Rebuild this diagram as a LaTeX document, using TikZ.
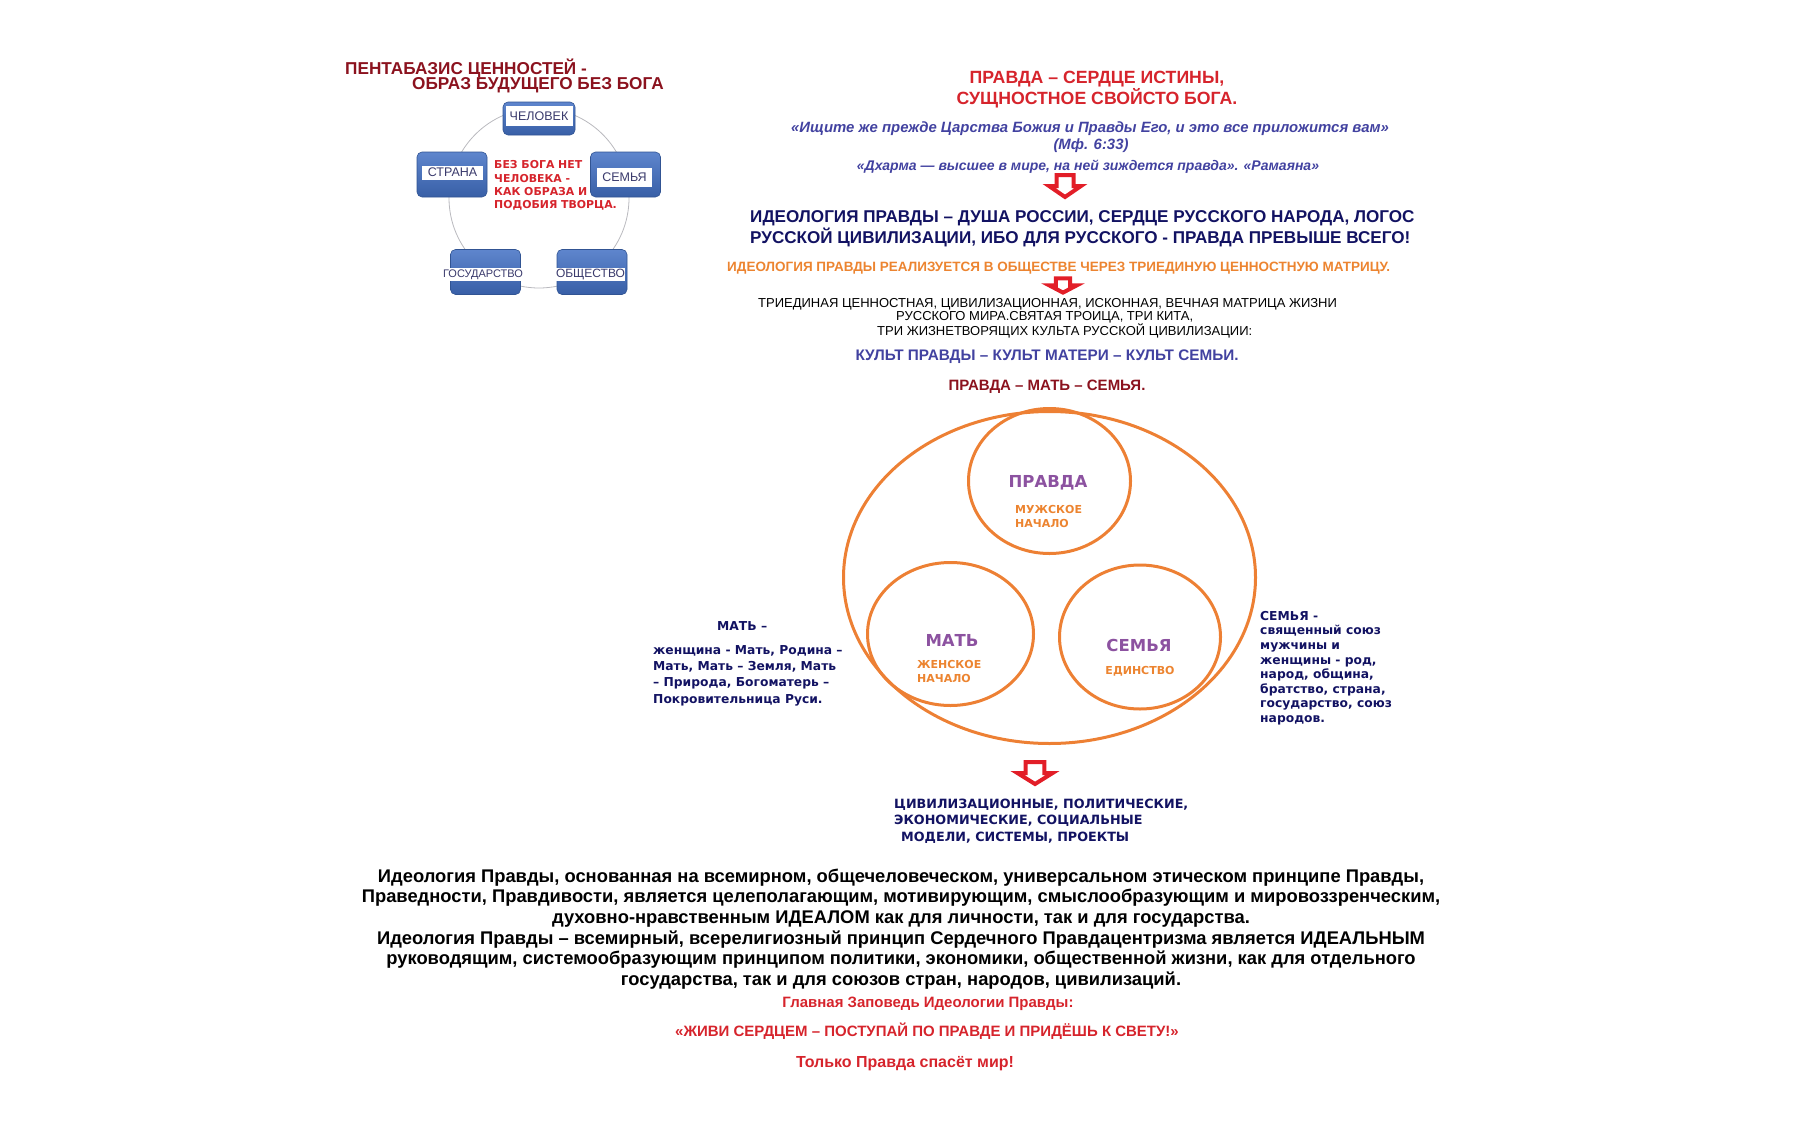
\documentclass[tikz,border=0pt]{standalone}
\usepackage{fontspec}
\setmainfont{Liberation Sans}
\newfontfamily\verdfont{DejaVu Sans}
\usetikzlibrary{shapes.geometric}
\definecolor{titlered}{RGB}{139,18,30}
\definecolor{headred}{RGB}{214,36,44}
\definecolor{quoteblue}{RGB}{66,66,160}
\definecolor{navyblue}{RGB}{18,18,98}
\definecolor{textorange}{RGB}{236,132,48}
\definecolor{ringorange}{RGB}{237,128,52}
\definecolor{wordpurple}{RGB}{140,82,160}
\definecolor{boxblue}{RGB}{66,112,196}
\definecolor{labelgrey}{RGB}{58,58,108}
\definecolor{arrowred}{RGB}{226,30,40}
\definecolor{ringgrey}{RGB}{185,185,190}
\newcommand\fsz[2]{\fontsize{#1}{#2}\selectfont}

\begin{document}
\begin{tikzpicture}[x=1pt,y=-1pt,line join=round,
  every node/.style={inner sep=0pt},
  pbox/.style={rounded corners=5pt,draw=boxblue!75!black,line width=0.6pt,top color=boxblue!85!white,bottom color=boxblue!85!black,minimum width=70pt,minimum height=45pt},
  plabel/.style={fill=white,text=labelgrey,font=\fsz{12.5}{12.5}},
  ring/.style={draw=ringorange,line width=3pt,ellipse,inner sep=0pt},
  bigword/.style={text=wordpurple,font=\verdfont\bfseries\fsz{16.5}{16.5}},
  subword/.style={text=textorange,font=\verdfont\bfseries\fsz{11}{14.5},align=left},
  sidetext/.style={text=navyblue,font=\verdfont\bfseries\fsz{12.3}{14.6},align=left,anchor=north west},
  downarrow/.pic={\draw[draw=arrowred,fill=white,line width=4pt,line join=miter] (-8.5,2) -- (8.5,2) -- (8.5,13) -- (16,13) -- (0,24) -- (-16,13) -- (-8.5,13) -- cycle;}]
\useasboundingbox (0,0) rectangle (1804,1140);

% pentabasis, top left
\node[anchor=mid west,text=titlered,font=\bfseries\fsz{17.2}{17.2}] (ptitle1) at (345,72) {ПЕНТАБАЗИС ЦЕННОСТЕЙ -};
\node[anchor=mid west,text=titlered,font=\bfseries\fsz{17.2}{17.2}] (ptitle2) at (412,87) {ОБРАЗ БУДУЩЕГО БЕЗ БОГА};
\draw[ringgrey,line width=0.8pt] (539,198) circle (90pt);
\node[pbox,minimum width=72pt,minimum height=33pt] (pchelbox) at (539,118.5) {};
\node[plabel,minimum width=67pt,minimum height=20pt] (pchel) at (539,116) {ЧЕЛОВЕК};
\node[pbox] (pstranabox) at (452,174.5) {};
\node[plabel,minimum width=61pt,minimum height=14pt] (pstrana) at (452.5,172.5) {СТРАНА};
\node[pbox] (psemyabox) at (625.5,174.5) {};
\node[plabel,minimum width=55pt,minimum height=19pt] (psemya) at (624.5,177.5) {СЕМЬЯ};
\node[pbox] (pgosbox) at (485.5,272) {};
\node[plabel,minimum width=74pt,minimum height=13pt,font=\fsz{11}{11}] (pgos) at (483,274.5) {ГОСУДАРСТВО};
\node[pbox] (pobshbox) at (592,272) {};
\node[plabel,minimum width=65pt,minimum height=13pt,font=\fsz{12}{12}] (pobsh) at (590.5,274.5) {ОБЩЕСТВО};
\node[anchor=north west,align=left,text=headred,font=\verdfont\bfseries\fsz{10.9}{13.4}] (nogod) at (494,160.5) {БЕЗ БОГА НЕТ\\ЧЕЛОВЕКА -\\КАК ОБРАЗА И\\ПОДОБИЯ ТВОРЦА.};

% header and quotes
\node[anchor=mid,text=headred,font=\bfseries\fsz{17.7}{17.7}] (head1) at (1097,81) {ПРАВДА – СЕРДЦЕ ИСТИНЫ,};
\node[anchor=mid,text=headred,font=\bfseries\fsz{17.7}{17.7}] (head2) at (1097,102) {СУЩНОСТНОЕ СВОЙСТО БОГА.};
\node[anchor=mid,text=quoteblue,font=\bfseries\itshape\fsz{14.9}{14.9}] (quote1) at (1090,130) {«Ищите же прежде Царства Божия и Правды Его, и это все приложится вам»};
\node[anchor=mid,text=quoteblue,font=\bfseries\itshape\fsz{14.9}{14.9}] (quote1ref) at (1091,147) {(Мф. 6:33)};
\node[anchor=mid,text=quoteblue,font=\bfseries\itshape\fsz{14}{14}] (quote2) at (1088,168) {«Дхарма — высшее в мире, на ней зиждется правда». «Рамаяна»};
\pic (arr1) at (1065,173) {downarrow};
\node[anchor=north west,align=left,text=navyblue,font=\bfseries\fsz{17.1}{21}] (ideo) at (750,210) {ИДЕОЛОГИЯ ПРАВДЫ – ДУША РОССИИ, СЕРДЦЕ РУССКОГО НАРОДА, ЛОГОС\\РУССКОЙ ЦИВИЛИЗАЦИИ, ИБО ДЛЯ РУССКОГО - ПРАВДА ПРЕВЫШЕ ВСЕГО!};
\node[anchor=mid west,text=textorange,font=\bfseries\fsz{13.5}{13.5}] (realize) at (727,269) {ИДЕОЛОГИЯ ПРАВДЫ РЕАЛИЗУЕТСЯ В ОБЩЕСТВЕ ЧЕРЕЗ ТРИЕДИНУЮ ЦЕННОСТНУЮ МАТРИЦУ.};
\pic[xscale=0.85,yscale=0.65] (arr2) at (1063,277) {downarrow};
\node[anchor=mid west,font=\fsz{13}{13}] (matrix1) at (758,305) {ТРИЕДИНАЯ ЦЕННОСТНАЯ, ЦИВИЛИЗАЦИОННАЯ, ИСКОННАЯ, ВЕЧНАЯ МАТРИЦА ЖИЗНИ};
\node[anchor=mid west,font=\fsz{13}{13}] (matrix2) at (896,318) {РУССКОГО МИРА.СВЯТАЯ ТРОИЦА, ТРИ КИТА,};
\node[anchor=mid west,font=\fsz{13}{13}] (matrix3) at (877,333) {ТРИ ЖИЗНЕТВОРЯЩИХ КУЛЬТА РУССКОЙ ЦИВИЛИЗАЦИИ:};
\node[anchor=mid,text=quoteblue,font=\bfseries\fsz{15.3}{15.3}] (cults) at (1047,358) {КУЛЬТ ПРАВДЫ – КУЛЬТ МАТЕРИ – КУЛЬТ СЕМЬИ.};
\node[anchor=mid,text=titlered,font=\bfseries\fsz{15}{15}] (triad) at (1047,388) {ПРАВДА – МАТЬ – СЕМЬЯ.};

% triune matrix
\node[ring,minimum width=412pt,minimum height=332pt] (outer) at (1049.5,577.5) {};
\node[ring,minimum width=162pt,minimum height=145pt] (pravda) at (1049.5,481) {};
\node[ring,minimum width=166pt,minimum height=143pt] (mat) at (950.5,634) {};
\node[ring,minimum width=161pt,minimum height=144pt] (semya) at (1140,637) {};
\node[bigword] (pravdaword) at (1048,483) {ПРАВДА};
\node[subword,anchor=north west] (pravdasub) at (1015,505) {МУЖСКОЕ\\НАЧАЛО};
\node[bigword] (matword) at (952,640) {МАТЬ};
\node[subword,anchor=north west] (matsub) at (917,660) {ЖЕНСКОЕ\\НАЧАЛО};
\node[bigword] (semyaword) at (1139,645) {СЕМЬЯ};
\node[subword] (semyasub) at (1140,671) {ЕДИНСТВО};
\node[anchor=mid west,text=navyblue,font=\verdfont\bfseries\fsz{12.3}{12.3}] (matlabel) at (717,628) {МАТЬ –};
\node[sidetext,font=\verdfont\bfseries\fsz{12.3}{16.3}] (matdesc) at (653,645) {женщина - Мать, Родина –\\Мать, Мать – Земля, Мать\\– Природа, Богоматерь –\\Покровительница Руси.};
\node[sidetext] (semyadesc) at (1260,611) {СЕМЬЯ -\\священный союз\\мужчины и\\женщины - род,\\народ, община,\\братство, страна,\\государство, союз\\народов.};
\pic[xscale=1.1] (arr3) at (1035,760) {downarrow};

% models and closing text
\node[anchor=mid west,text=navyblue,font=\verdfont\bfseries\fsz{12.75}{12.75}] (models1) at (894,806) {ЦИВИЛИЗАЦИОННЫЕ, ПОЛИТИЧЕСКИЕ,};
\node[anchor=mid west,text=navyblue,font=\verdfont\bfseries\fsz{12.75}{12.75}] (models2) at (894,822) {ЭКОНОМИЧЕСКИЕ, СОЦИАЛЬНЫЕ};
\node[anchor=mid west,text=navyblue,font=\verdfont\bfseries\fsz{12.75}{12.75}] (models3) at (901,839) {МОДЕЛИ, СИСТЕМЫ, ПРОЕКТЫ};
\node[align=center,font=\bfseries\fsz{18.35}{20.6}] (ideal) at (901,929) {Идеология Правды, основанная на всемирном, общечеловеческом, универсальном этическом принципе Правды,\\Праведности, Правдивости, является целеполагающим, мотивирующим, смыслообразующим и мировоззренческим,\\духовно-нравственным ИДЕАЛОМ как для личности, так и для государства.\\Идеология Правды – всемирный, всерелигиозный принцип Сердечного Правдацентризма является ИДЕАЛЬНЫМ\\руководящим, системообразующим принципом политики, экономики, общественной жизни, как для отдельного\\государства, так и для союзов стран, народов, цивилизаций.};
\node[anchor=mid,text=headred,font=\bfseries\fsz{15}{15}] (commandment) at (928,1005) {Главная Заповедь Идеологии Правды:};
\node[anchor=mid,text=headred,font=\bfseries\fsz{15}{15}] (motto) at (927,1034) {«ЖИВИ СЕРДЦЕМ – ПОСТУПАЙ ПО ПРАВДЕ И ПРИДЁШЬ К СВЕТУ!»};
\node[anchor=mid,text=headred,font=\bfseries\fsz{16}{16}] (saves) at (905,1065) {Только Правда спасёт мир!};
\end{tikzpicture}
\end{document}
